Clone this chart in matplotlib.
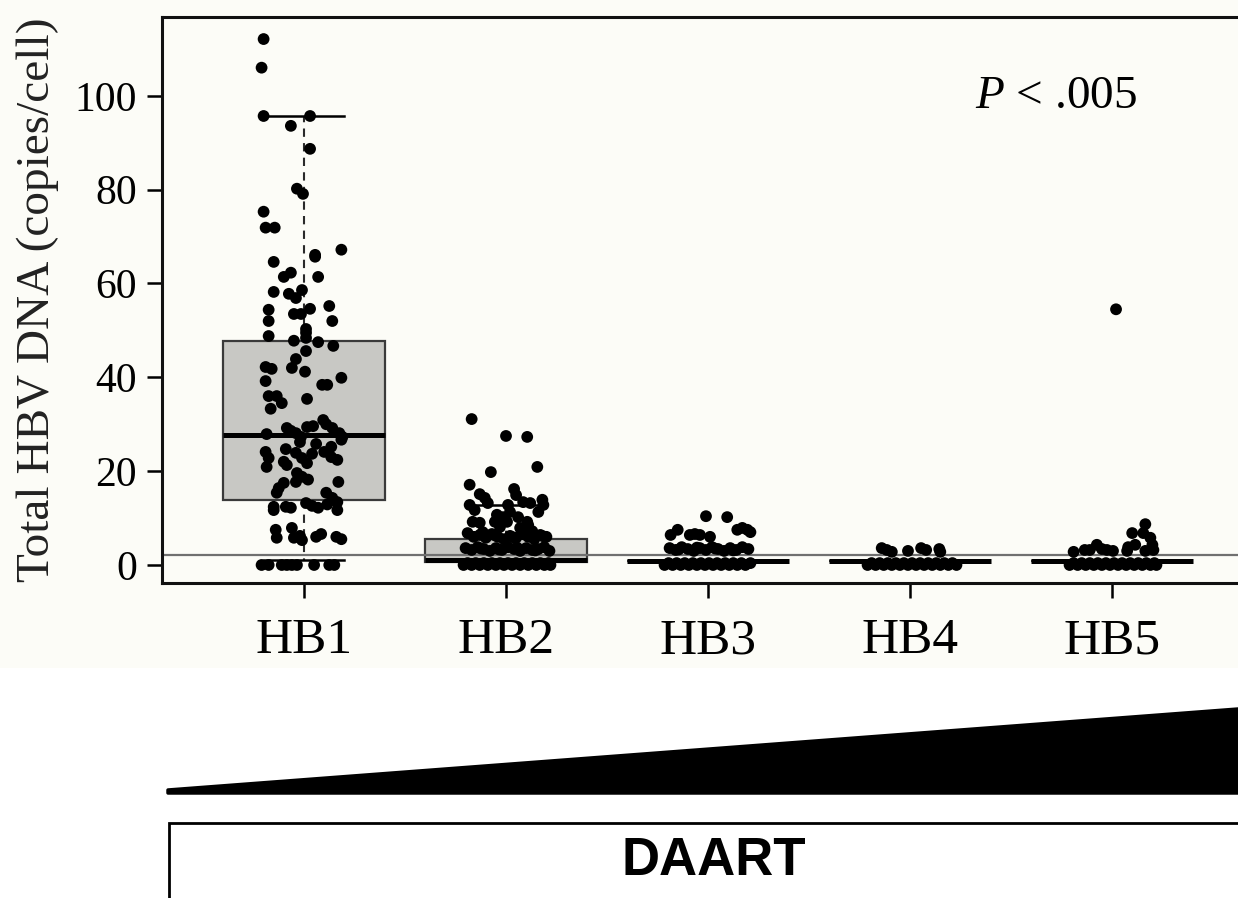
import numpy as np
import matplotlib
matplotlib.use('Agg')
import matplotlib.pyplot as plt
from matplotlib.patches import Polygon, Rectangle

plt.rcParams['font.family'] = ['Liberation Serif', 'DejaVu Serif']
plt.rcParams['mathtext.fontset'] = 'custom'
plt.rcParams['mathtext.rm'] = 'Liberation Serif'
plt.rcParams['mathtext.it'] = 'Liberation Serif:italic'

groups = ['HB1', 'HB2', 'HB3', 'HB4', 'HB5']

# per-patient values (copies/cell) and their horizontal jitter within each group
hb1_y = [112.1, 106.0, 95.7, 95.7, 93.6, 88.7, 80.2, 79.1, 75.3, 71.9, 71.9, 67.2, 66.1, 65.7,
         64.6, 61.4, 62.3, 61.4, 58.2, 57.8, 56.9, 58.6, 54.4, 53.5, 53.5, 54.6, 55.2, 52.0,
         52.0, 50.3, 49.5, 48.8, 47.8, 48.4, 47.5, 46.7, 45.6, 43.9, 42.2, 41.8, 42.0, 41.2,
         39.9, 39.2, 38.4, 38.4, 36.0, 36.0, 34.5, 35.4, 33.3, 30.9, 27.9, 29.2, 28.6, 28.1,
         27.3, 29.4, 29.6, 29.2, 28.1, 26.7, 27.3, 25.2, 24.1, 22.8, 20.9, 24.7, 22.0, 21.3,
         23.9, 22.8, 21.7, 23.7, 24.1, 23.0, 22.4, 19.6, 18.8, 17.7, 17.5, 16.4, 15.4, 17.7,
         15.4, 14.3, 13.4, 12.4, 11.7, 12.4, 12.2, 13.2, 12.6, 12.2, 11.7, 7.5, 5.8, 7.9,
         5.8, 5.3, 6.0, 6.6, 6.0, 5.5, 0.0, 0.0, 0.0, 0.0, 0.0, 0.0, 0.0, 0.0, 0.0,
         26.2, 25.8, 30.0, 18.2, 12.9, 6.2]
hb1_dx = [-0.20, -0.21, -0.20, 0.03, -0.065, 0.03, -0.035, -0.005, -0.20, -0.19, -0.145, 0.185,
          0.055, 0.055, -0.15, -0.10, -0.065, 0.07, -0.15, -0.075, -0.04, -0.01, -0.175, -0.05,
          -0.015, 0.03, 0.125, -0.175, 0.14, 0.01, 0.01, -0.175, -0.05, 0.01, 0.07, 0.145,
          0.01, -0.04, -0.19, -0.16, -0.06, 0.005, 0.185, -0.19, 0.09, 0.115, -0.175, -0.135,
          -0.11, 0.015, -0.165, 0.095, -0.185, -0.085, -0.065, -0.04, -0.015, 0.015, 0.045,
          0.14, 0.175, 0.185, 0.19, 0.135, -0.19, -0.175, -0.185, -0.09, -0.10, -0.085, -0.04,
          -0.01, 0.015, 0.04, 0.10, 0.135, 0.165, -0.035, -0.01, -0.04, -0.10, -0.125, -0.135,
          0.17, 0.11, 0.14, 0.165, -0.15, -0.15, -0.09, -0.065, 0.01, 0.04, 0.07, 0.165, -0.14,
          -0.135, -0.06, -0.05, -0.01, 0.06, 0.085, 0.16, 0.185, -0.21, -0.175, -0.11, -0.085,
          -0.06, -0.035, 0.05, 0.125, 0.15,
          -0.02, 0.06, 0.11, 0.02, 0.115, -0.02]

hb2_y = [31.1, 27.5, 27.3, 20.9, 19.8, 17.1, 15.1, 14.3, 12.8, 11.7, 13.2, 16.2, 14.9, 13.4,
         13.2, 13.9, 12.8, 11.3, 12.8, 11.3, 10.2, 10.7, 9.2, 8.1, 10.2, 9.2, 8.5, 9.0, 9.2,
         7.9, 9.2,
         6.8, 6.0, 6.4, 5.8, 6.6, 6.0, 5.5, 6.2, 5.8, 6.6, 6.0, 5.5, 6.4, 6.0, 7.0, 7.2,
         6.3, 5.9, 6.5, 6.1,
         3.6, 3.2, 3.8, 3.4, 3.0, 3.6, 3.2, 3.8, 3.4, 3.0, 3.6, 3.2, 3.4, 3.8, 3.0,
         3.5, 3.3, 3.7, 3.1,
         0.0, 0.4, 0.0, 0.4, 0.0, 0.4, 0.0, 0.4, 0.0, 0.4, 0.0, 0.4, 0.0, 0.4, 0.0, 0.4,
         0.0, 0.4, 0.0, 0.4, 0.0, 0.4, 0.0]
hb2_dx = [-0.17, 0.0, 0.105, 0.155, -0.075, -0.18, -0.13, -0.105, -0.18, -0.155, -0.09, 0.04,
          0.05, 0.085, 0.12, 0.18, 0.185, 0.16, 0.01, 0.02, -0.015, -0.045, -0.055, -0.03, 0.06,
          0.105, 0.11, -0.13, -0.165, 0.07, 0.005,
          -0.19, -0.16, -0.13, -0.10, -0.07, -0.04, -0.01, 0.02, 0.05, 0.08, 0.11, 0.14, 0.17,
          0.20, -0.115, 0.13,
          -0.055, 0.035, 0.095, 0.185,
          -0.20, -0.17, -0.14, -0.11, -0.08, -0.05, -0.02, 0.01, 0.04, 0.07, 0.10, 0.13, 0.16,
          0.19, 0.215,
          -0.125, -0.035, 0.055, 0.145,
          -0.21, -0.19, -0.17, -0.15, -0.13, -0.11, -0.09, -0.07, -0.05, -0.03, -0.01, 0.01,
          0.03, 0.05, 0.07, 0.09, 0.11, 0.13, 0.15, 0.17, 0.19, 0.21, 0.22]

hb3_y = [10.4, 10.2, 6.4, 7.5, 6.4, 6.6, 6.4, 6.0, 7.5, 7.9, 7.5, 7.0,
         3.6, 3.2, 3.8, 3.4, 3.0, 3.6, 3.2, 3.8, 3.4, 3.0, 3.6, 3.2, 3.8, 3.4,
         3.3, 3.7, 3.5, 3.1,
         0.0, 0.4, 0.0, 0.4, 0.0, 0.4, 0.0, 0.4, 0.0, 0.4, 0.0, 0.4, 0.0, 0.4, 0.0, 0.4,
         0.0, 0.4, 0.0, 0.4, 0.0, 0.4]
hb3_dx = [-0.01, 0.095, -0.185, -0.15, -0.09, -0.065, -0.04, 0.01, 0.145, 0.17, 0.195, 0.21,
          -0.19, -0.16, -0.13, -0.10, -0.07, -0.04, -0.01, 0.02, 0.05, 0.08, 0.11, 0.14, 0.17,
          0.20,
          -0.145, -0.055, 0.035, 0.125,
          -0.215, -0.195, -0.175, -0.155, -0.135, -0.115, -0.095, -0.075, -0.055, -0.035,
          -0.015, 0.005, 0.025, 0.045, 0.065, 0.085, 0.105, 0.125, 0.145, 0.165, 0.185, 0.21]

hb4_y = [3.6, 3.2, 2.8, 3.0, 3.6, 3.2, 3.4, 2.8,
         0.0, 0.4, 0.0, 0.4, 0.0, 0.4, 0.0, 0.4, 0.0, 0.4, 0.0, 0.4, 0.0, 0.4, 0.0, 0.4,
         0.0, 0.4, 0.0, 0.4, 0.0, 0.4, 0.0]
hb4_dx = [-0.14, -0.115, -0.09, -0.01, 0.055, 0.08, 0.145, 0.15,
          -0.21, -0.19, -0.17, -0.15, -0.13, -0.11, -0.09, -0.07, -0.05, -0.03, -0.01, 0.01,
          0.03, 0.05, 0.07, 0.09, 0.11, 0.13, 0.15, 0.17, 0.19, 0.21, 0.23]

hb5_y = [54.5, 2.8, 3.2, 3.2, 4.3, 3.4, 3.2, 3.0, 3.0, 3.8, 4.3, 6.8, 8.7, 6.8, 5.8, 4.3,
         3.2, 3.0,
         0.0, 0.4, 0.0, 0.4, 0.0, 0.4, 0.0, 0.4, 0.0, 0.4, 0.0, 0.4, 0.0, 0.4, 0.0, 0.4,
         0.0, 0.4, 0.0, 0.4, 0.0, 0.4, 0.0]
hb5_dx = [0.02, -0.19, -0.135, -0.11, -0.075, -0.05, -0.025, 0.005, 0.075, 0.08, 0.115, 0.10,
          0.165, 0.155, 0.19, 0.2, 0.205, 0.165,
          -0.21, -0.19, -0.17, -0.15, -0.13, -0.11, -0.09, -0.07, -0.05, -0.03, -0.01, 0.01,
          0.03, 0.05, 0.07, 0.09, 0.11, 0.13, 0.15, 0.17, 0.19, 0.21, 0.22]

# box summaries per group
box_q1 = [13.9, 0.6, 0.8, 0.8, 0.8]
box_med = [27.7, 1.0, 0.8, 0.8, 0.8]
box_q3 = [47.8, 5.5, 0.8, 0.8, 0.8]
box_lo = [1.0, 0.6, 0.8, 0.8, 0.8]
box_hi = [95.7, 12.8, 0.8, 0.8, 0.8]

cutoff = 2.1
p_text = r'$P$ < .005'

W, H = 1238, 898
fig = plt.figure(figsize=(W / 100, H / 100), dpi=100)
fig.patch.set_facecolor('white')
# cream panel behind the chart part of the figure
fig.patches.append(Rectangle((0, 1 - 668 / H), 1, 668 / H, transform=fig.transFigure,
                             facecolor='#fcfcf7', edgecolor='none', zorder=-10))

ax = fig.add_axes([162 / W, 1 - 583 / H, (1254 - 162) / W, (583 - 17) / H])
ax.set_facecolor('#fcfcf7')

positions = np.arange(1, len(groups) + 1)
stats = []
for i, g in enumerate(groups):
    stats.append(dict(label=g, q1=box_q1[i], med=box_med[i], q3=box_q3[i],
                      whislo=box_lo[i], whishi=box_hi[i]))

ax.bxp(stats, positions=positions, widths=0.8, showfliers=False, patch_artist=True,
       boxprops=dict(facecolor='#c8c8c4', edgecolor='#3a3a3a', linewidth=1.6),
       medianprops=dict(color='black', linewidth=3.6, solid_capstyle='butt'),
       whiskerprops=dict(color='#2a2a2a', linewidth=1.5, linestyle=(0, (4, 3))),
       capprops=dict(color='black', linewidth=1.8), capwidths=0.4)

ax.axhline(cutoff, color='#707070', linewidth=1.6, zorder=2.5)

all_y = [hb1_y, hb2_y, hb3_y, hb4_y, hb5_y]
all_dx = [hb1_dx, hb2_dx, hb3_dx, hb4_dx, hb5_dx]
for pos, ys, dxs in zip(positions, all_y, all_dx):
    ax.scatter(pos + np.array(dxs), ys, s=72, color='black', edgecolors='none', zorder=4)

ax.set_xlim(0.297, 5.703)
ax.set_ylim(-3.84, 116.8)
ax.set_xticks(positions)
ax.set_xticklabels(groups, fontsize=37)
ax.set_yticks([0, 20, 40, 60, 80, 100])
ax.tick_params(axis='both', direction='out', length=11, width=1.8, color='black')
ax.tick_params(axis='y', labelsize=30, pad=7)
ax.tick_params(axis='x', pad=14)
for side in ['left', 'bottom', 'top', 'right']:
    ax.spines[side].set_linewidth(2.2)
    ax.spines[side].set_color('#111111')

fig.text(38 / W, 1 - 300 / H, 'Total HBV DNA (copies/cell)', rotation=90,
         ha='center', va='center', fontsize=34, color='#222222')

ax.text(4.32, 99.8, p_text, fontsize=34, ha='left', va='center')

# rising wedge for treatment intensity
wedge = Polygon([(168 / W, 1 - 790 / H), (1.0, 1 - 709 / H), (1.0, 1 - 793 / H),
                 (168 / W, 1 - 793 / H)], closed=True, transform=fig.transFigure,
                facecolor='black', edgecolor='black', linewidth=2.5, joinstyle='round')
fig.patches.append(wedge)

fig.patches.append(Rectangle((169 / W, -0.05), 1.0, 1.05 - 823 / H, transform=fig.transFigure,
                             facecolor='white', edgecolor='black', linewidth=2.0))
fig.text(714 / W, 1 - 861 / H, 'DAART', ha='center', va='center', fontsize=38,
         fontweight='bold', family=['Liberation Sans Narrow', 'Liberation Sans', 'DejaVu Sans'])

fig.savefig('out.png', dpi=100)
